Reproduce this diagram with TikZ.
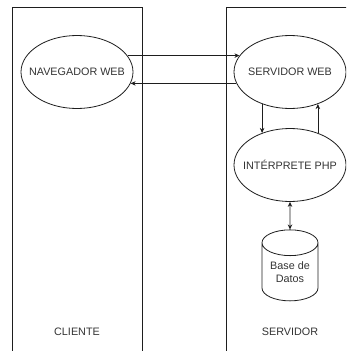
\documentclass[tikz,border=0pt]{standalone}
\usepackage{fontspec}
\setmainfont{Liberation Sans}
\usetikzlibrary{shapes.geometric, arrows.meta, positioning}
\definecolor{labelgray}{RGB}{51,51,51}
\definecolor{linegray}{RGB}{30,30,30}
\newcommand{\tightlabel}[1]{\makebox[0pt]{#1}}

\begin{document}
\begin{tikzpicture}[x=1pt, y=-1pt,
    font=\fontsize{10.8}{12.5}\selectfont, text=labelgray,
    lane/.style={draw=linegray, line width=0.8pt},
    proc/.style={ellipse, draw=linegray, line width=0.8pt, minimum width=112pt, minimum height=73pt, inner sep=0pt},
    store/.style={cylinder, shape border rotate=90, draw=linegray, line width=0.8pt, aspect=0.65,
                  minimum width=56pt, minimum height=71pt, align=center, inner sep=0pt},
    flow/.style={-{Stealth[length=5pt, width=4.5pt]}, draw=linegray, line width=0.7pt}]
    \useasboundingbox (0,0) rectangle (346,351);
    \clip (0,0) rectangle (346,351);

    % Lanes
    \draw[lane] (12,361) -- (12,7) -- (142,7) -- (142,361);
    \draw[lane] (226,361) -- (226,7) -- (356,7) -- (356,361);

    % Processes
    \node[proc] (nav) at (77,72) {\tightlabel{NAVEGADOR WEB}};
    \node[proc] (srv) at (290,72) {\tightlabel{SERVIDOR WEB}};
    \node[proc] (php) at (290,165) {\tightlabel{INTÉRPRETE PHP}};
    \node[store] (db) at (290,272) {Base de\\Datos};

    % Requests and responses
    \draw[flow] (nav.18) -- (srv.162);
    \draw[flow] (srv.192) -- (nav.-12);
    \draw[flow] (srv.229) -- (php.131);
    \draw[flow] (php.49) -- (srv.311);
    \draw[flow, {Stealth[length=5pt, width=4.5pt]}-{Stealth[length=5pt, width=4.5pt]}] (php.south) -- (db.north);

    % Lane titles
    \node (cli) at (77,332) {CLIENTE};
    \node (srvlbl) at (290,332) {SERVIDOR};
\end{tikzpicture}
\end{document}
